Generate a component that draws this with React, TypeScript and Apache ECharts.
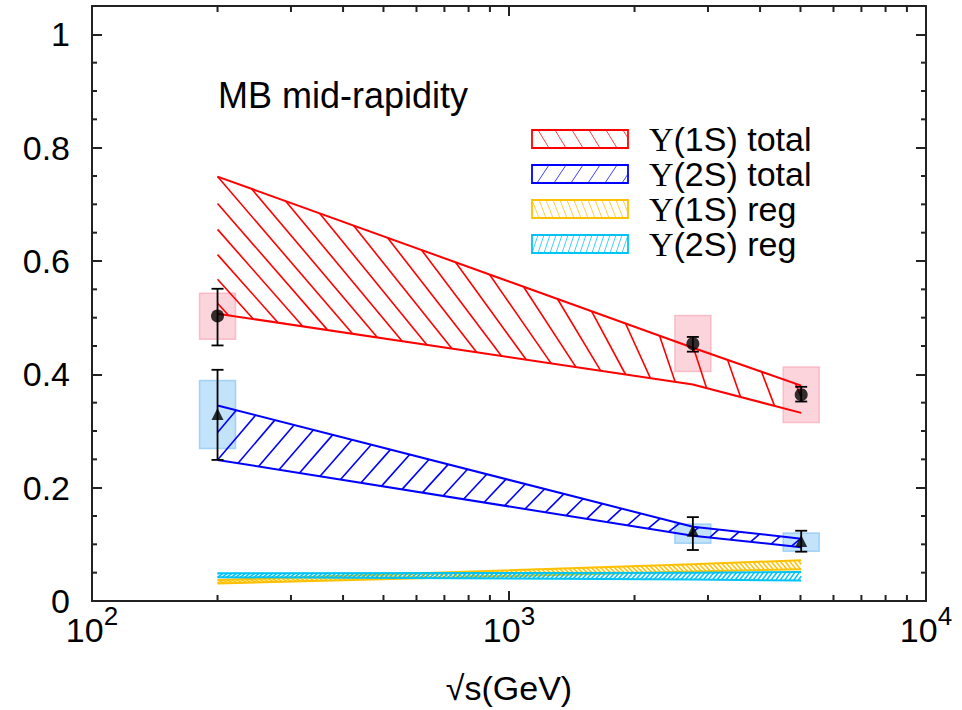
import React, { useEffect, useRef } from 'react';
import * as echarts from 'echarts';

// ---------- data ----------
const energies = [200, 2760, 5020];
const y1S = [0.503, 0.454, 0.364];
const y1SStatLo = [0.451, 0.440, 0.352];
const y1SStatHi = [0.551, 0.466, 0.378];
const y1SSysLo = [0.462, 0.405, 0.315];
const y1SSysHi = [0.543, 0.504, 0.413];
const y2S = [0.330, 0.124, 0.106];
const y2SStatLo = [0.249, 0.090, 0.087];
const y2SStatHi = [0.408, 0.148, 0.124];
const y2SSysLo = [0.269, 0.102, 0.088];
const y2SSysHi = [0.389, 0.136, 0.120];

const bandEnergies = [200, 2760, 5020];
const band1STotalLo = [0.507, 0.382, 0.332];
const band1STotalHi = [0.749, 0.447, 0.38];
const band2STotalLo = [0.249, 0.115, 0.095];
const band2STotalHi = [0.345, 0.131, 0.11];
const band1SRegLo = [0.031, 0.052, 0.056];
const band1SRegHi = [0.037, 0.065, 0.072];
const band2SRegLo = [0.042, 0.038, 0.036];
const band2SRegHi = [0.049, 0.050, 0.051];

const xMajorTicks = [100, 1000, 10000];
const yTickLabels = ['0', '0.2', '0.4', '0.6', '0.8', '1'];
const legendLabels = ['(1S) total', '(2S) total', '(1S) reg', '(2S) reg'];
const titleText = 'MB mid-rapidity';

// ---------- style ----------
const SANS = 'Liberation Sans, Arial, Helvetica, sans-serif';
const SERIF = 'Liberation Serif, Times New Roman, serif';
const RED = '#ff0000';
const BLUE = '#0000ff';
const YELLOW = '#ffc000';
const CYAN = '#00c3f5';
const AXIS = '#222';

type Hatch = { dir: 1 | -1; p: number; a: number; b: number; min: number; lw: number };

function interpY(pts: number[][], X: number): number {
  let i = 0;
  if (X <= pts[0][0]) i = 0;
  else if (X >= pts[pts.length - 1][0]) i = pts.length - 2;
  else {
    while (i < pts.length - 2 && X > pts[i + 1][0]) i++;
  }
  const [x1, y1] = pts[i];
  const [x2, y2] = pts[i + 1];
  return y1 + ((y2 - y1) * (X - x1)) / (x2 - x1);
}

function clipSeg(x1: number, y1: number, x2: number, y2: number, xmin: number, xmax: number) {
  if (x2 < x1) {
    [x1, x2] = [x2, x1];
    [y1, y2] = [y2, y1];
  }
  if (x2 < xmin || x1 > xmax) return null;
  const f = (x: number) => (x2 === x1 ? y1 : y1 + ((y2 - y1) * (x - x1)) / (x2 - x1));
  const ax = Math.max(x1, xmin);
  const bx = Math.min(x2, xmax);
  return [ax, f(ax), bx, f(bx)];
}

function bandSeries(lo: number[], hi: number[], color: string, h: Hatch, outlineW: number) {
  return {
    type: 'custom',
    coordinateSystem: 'cartesian2d',
    xAxisIndex: 0,
    yAxisIndex: 0,
    silent: true,
    z: 3,
    data: [[bandEnergies[0], lo[0]]],
    renderItem: (params: any, api: any) => {
      const U = bandEnergies.map((e, i) => api.coord([e, hi[i]]));
      const L = bandEnergies.map((e, i) => api.coord([e, lo[i]]));
      const xl = U[0][0];
      const xr = U[U.length - 1][0];
      const from = h.dir === 1 ? U : L;
      const to = h.dir === 1 ? L : U;
      const children: any[] = [];
      for (let k = -200; k <= 400; k++) {
        const xs = xl + h.p * k;
        if (xs > xr) break;
        const d = Math.max(h.min, h.a + h.b * (xs - xl));
        const xe = xs + d;
        if (xe < xl) continue;
        const seg = clipSeg(xs, interpY(from, xs), xe, interpY(to, xe), xl, xr);
        if (seg) {
          children.push({
            type: 'line',
            shape: { x1: seg[0], y1: seg[1], x2: seg[2], y2: seg[3] },
            style: { stroke: color, lineWidth: h.lw },
          });
        }
      }
      children.push({ type: 'polyline', shape: { points: U }, style: { stroke: color, fill: 'none', lineWidth: outlineW } });
      children.push({ type: 'polyline', shape: { points: L }, style: { stroke: color, fill: 'none', lineWidth: outlineW } });
      return { type: 'group', children };
    },
  };
}

function boxSeries(lo: number[], hi: number[], fill: string, stroke: string) {
  return {
    type: 'custom',
    coordinateSystem: 'cartesian2d',
    silent: true,
    z: 2,
    data: energies.map((e, i) => [e, lo[i], hi[i]]),
    renderItem: (params: any, api: any) => {
      const a = api.coord([api.value(0), api.value(2)]);
      const b = api.coord([api.value(0), api.value(1)]);
      const w = 36;
      return {
        type: 'rect',
        shape: { x: a[0] - w / 2, y: a[1], width: w, height: b[1] - a[1] },
        style: { fill, stroke, lineWidth: 1.5 },
      };
    },
  };
}

function errSeries(lo: number[], hi: number[]) {
  return {
    type: 'custom',
    coordinateSystem: 'cartesian2d',
    silent: true,
    z: 5,
    data: energies.map((e, i) => [e, lo[i], hi[i]]),
    renderItem: (params: any, api: any) => {
      const a = api.coord([api.value(0), api.value(2)]);
      const b = api.coord([api.value(0), api.value(1)]);
      const c = 6;
      const st = { stroke: '#000', lineWidth: 1.8 };
      return {
        type: 'group',
        children: [
          { type: 'line', shape: { x1: a[0], y1: a[1], x2: b[0], y2: b[1] }, style: st },
          { type: 'line', shape: { x1: a[0] - c, y1: a[1], x2: a[0] + c, y2: a[1] }, style: st },
          { type: 'line', shape: { x1: b[0] - c, y1: b[1], x2: b[0] + c, y2: b[1] }, style: st },
        ],
      };
    },
  };
}

const xMinor: number[] = [];
for (const dec of [100, 1000]) for (let m = 2; m <= 9; m++) xMinor.push(m * dec);
const yMinor: number[] = [];
for (let i = 1; i <= 20; i++) if (i % 4 !== 0) yMinor.push(i * 0.05);

function legendHatch(x0: number, y0: number, w: number, h: number, dir: 1 | -1, p: number, dx: number, color: string) {
  const out: any[] = [];
  for (let xs = x0 - dx; xs <= x0 + w; xs += p) {
    const ya = dir === 1 ? y0 : y0 + h;
    const yb = dir === 1 ? y0 + h : y0;
    const seg = clipSeg(xs, ya, xs + dx, yb, x0, x0 + w);
    if (seg) out.push({ type: 'line', shape: { x1: seg[0], y1: seg[1], x2: seg[2], y2: seg[3] }, style: { stroke: color, lineWidth: 1, opacity: 0.75 }, z: 100 });
  }
  return out;
}

export default function App() {
  const ref = useRef<HTMLDivElement>(null);
  useEffect(() => {
    if (!ref.current) return;
    const chart = echarts.init(ref.current, undefined, { renderer: 'svg' });

    const legendCfg = [
      { color: RED, dir: 1 as 1, p: 17, dx: 11 },
      { color: BLUE, dir: -1 as -1, p: 17, dx: 12 },
      { color: YELLOW, dir: 1 as 1, p: 7, dx: 7 },
      { color: CYAN, dir: -1 as -1, p: 6, dx: 6 },
    ];
    const graphics: any[] = [
      {
        type: 'text',
        x: 218,
        y: 95,
        style: { text: titleText, fontFamily: SANS, fontSize: 36, fill: '#000', verticalAlign: 'middle', align: 'left' },
        z: 100,
      },
    ];
    legendCfg.forEach((c, i) => {
      const cy = 139 + i * 35;
      const x0 = 532, w = 96, h = 18, y0 = cy - h / 2;
      graphics.push(...legendHatch(x0, y0, w, h, c.dir, c.p, c.dx, c.color));
      graphics.push({ type: 'rect', shape: { x: x0, y: y0, width: w, height: h }, style: { fill: 'none', stroke: c.color, lineWidth: 1.8 }, z: 101 });
      graphics.push({
        type: 'text',
        x: 649,
        y: cy,
        z: 101,
        style: {
          text: `{u|Υ}{s|${legendLabels[i]}}`,
          verticalAlign: 'middle',
          align: 'left',
          rich: {
            u: { fontFamily: SERIF, fontSize: 34, fill: '#000', lineHeight: 32 },
            s: { fontFamily: SANS, fontSize: 34, fill: '#000', lineHeight: 32 },
          },
        },
      });
    });

    const labelRich = {
      b: { fontFamily: SANS, fontSize: 34, color: '#000', lineHeight: 34, verticalAlign: 'bottom' },
      s: { fontFamily: SANS, fontSize: 26, color: '#000', lineHeight: 26, padding: [0, 0, 18, 0], verticalAlign: 'bottom' },
    };

    const option: any = {
      animation: false,
      grid: { left: 92, right: 36, top: 6, bottom: 108 },
      xAxis: [
        {
          type: 'log',
          logBase: 10,
          min: xMajorTicks[0],
          max: xMajorTicks[xMajorTicks.length - 1],
          position: 'bottom',
          axisLine: { show: true, onZero: false, lineStyle: { color: AXIS, width: 2 } },
          axisTick: { show: true, inside: true, length: 10, lineStyle: { color: AXIS, width: 2 } },
          splitLine: { show: false },
          axisLabel: {
            margin: 12,
            formatter: (v: number) => `{b|10}{s|${Math.round(Math.log10(v))}}`,
            rich: labelRich,
          },
          name: '√s(GeV)',
          nameLocation: 'middle',
          nameGap: 70,
          nameTextStyle: { fontFamily: SANS, fontSize: 34, color: '#000' },
        },
        {
          type: 'log',
          logBase: 10,
          min: xMajorTicks[0],
          max: xMajorTicks[xMajorTicks.length - 1],
          position: 'top',
          axisLine: { show: true, onZero: false, lineStyle: { color: AXIS, width: 2 } },
          axisTick: { show: true, inside: true, length: 10, lineStyle: { color: AXIS, width: 2 } },
          splitLine: { show: false },
          axisLabel: { show: false },
        },
      ],
      yAxis: [
        {
          type: 'value',
          min: 0,
          max: 1.05,
          interval: 0.2,
          position: 'left',
          axisLine: { show: true, onZero: false, lineStyle: { color: AXIS, width: 2 } },
          axisTick: { show: true, inside: true, length: 10, lineStyle: { color: AXIS, width: 2 } },
          splitLine: { show: false },
          axisLabel: {
            margin: 22,
            fontFamily: SANS,
            fontSize: 34,
            color: '#000',
            formatter: (v: number) => {
              const idx = Math.round(v / 0.2);
              return Math.abs(v - idx * 0.2) < 1e-6 && idx < yTickLabels.length ? yTickLabels[idx] : '';
            },
          },
        },
        {
          type: 'value',
          min: 0,
          max: 1.05,
          interval: 0.2,
          position: 'right',
          axisLine: { show: true, onZero: false, lineStyle: { color: AXIS, width: 2 } },
          axisTick: { show: true, inside: true, length: 10, lineStyle: { color: AXIS, width: 2 } },
          splitLine: { show: false },
          axisLabel: { show: false },
        },
      ],
      series: [
        {
          type: 'custom',
          coordinateSystem: 'cartesian2d',
          silent: true,
          z: 6,
          data: xMinor.map((v) => [v, 0.5]),
          renderItem: (params: any, api: any) => {
            const X = api.coord([api.value(0), 0.5])[0];
            const cs = params.coordSys;
            const st = { stroke: AXIS, lineWidth: 2 };
            return {
              type: 'group',
              children: [
                { type: 'line', shape: { x1: X, y1: cs.y + cs.height, x2: X, y2: cs.y + cs.height - 6 }, style: st },
                { type: 'line', shape: { x1: X, y1: cs.y, x2: X, y2: cs.y + 6 }, style: st },
              ],
            };
          },
        },
        {
          type: 'custom',
          coordinateSystem: 'cartesian2d',
          silent: true,
          z: 6,
          data: yMinor.map((v) => [1000, v]),
          renderItem: (params: any, api: any) => {
            const Y = api.coord([1000, api.value(1)])[1];
            const cs = params.coordSys;
            const st = { stroke: AXIS, lineWidth: 2 };
            return {
              type: 'group',
              children: [
                { type: 'line', shape: { x1: cs.x, y1: Y, x2: cs.x + 5, y2: Y }, style: st },
                { type: 'line', shape: { x1: cs.x + cs.width, y1: Y, x2: cs.x + cs.width - 5, y2: Y }, style: st },
              ],
            };
          },
        },
        boxSeries(y1SSysLo, y1SSysHi, 'rgba(250,170,185,0.5)', 'rgba(248,160,175,0.6)'),
        boxSeries(y2SSysLo, y2SSysHi, 'rgba(135,200,245,0.5)', 'rgba(120,190,240,0.6)'),
        bandSeries(band1STotalLo, band1STotalHi, RED, { dir: 1, p: 34, a: 135, b: -0.27, min: 13, lw: 1.6 }, 2),
        bandSeries(band2STotalLo, band2STotalHi, BLUE, { dir: -1, p: 20.5, a: 38, b: -0.06, min: 9, lw: 1.6 }, 2),
        bandSeries(band1SRegLo, band1SRegHi, YELLOW, { dir: 1, p: 4.5, a: 7, b: 0, min: 7, lw: 1.5 }, 2),
        bandSeries(band2SRegLo, band2SRegHi, CYAN, { dir: -1, p: 4.5, a: 6, b: 0, min: 6, lw: 1.5 }, 2),
        errSeries(y1SStatLo, y1SStatHi),
        errSeries(y2SStatLo, y2SStatHi),
        {
          type: 'scatter',
          symbol: 'circle',
          symbolSize: 13,
          z: 6,
          itemStyle: { color: '#000' },
          data: energies.map((e, i) => [e, y1S[i]]),
        },
        {
          type: 'scatter',
          symbol: 'triangle',
          symbolSize: 12,
          z: 6,
          itemStyle: { color: '#000' },
          data: energies.map((e, i) => [e, y2S[i]]),
        },
      ],
      graphic: graphics,
    };
    chart.setOption(option);
    return () => chart.dispose();
  }, []);
  return <div ref={ref} style={{ position: 'fixed', left: 0, top: 0, width: 962, height: 710, background: '#fff' }} />;
}
